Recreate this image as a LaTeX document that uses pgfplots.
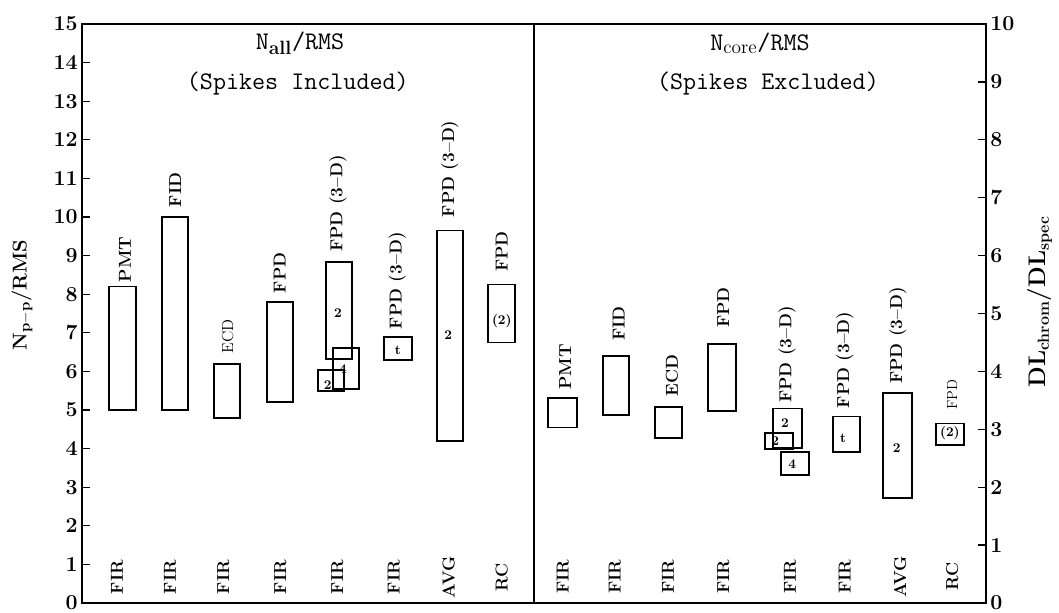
\documentclass[border=0pt]{standalone}
\usepackage{pgfplots}
\pgfplotsset{compat=1.18}
\newcommand\bx[4]{\addplot[black, line width=1.4pt, line cap=rect, line join=miter] coordinates {(#1,#3) (#2,#3) (#2,#4) (#1,#4) (#1,#3)};}
\tikzset{cat/.style={rotate=90, font=\bfseries\fontsize{13}{13}\selectfont},
         det/.style={rotate=90, font=\bfseries\fontsize{13}{13}\selectfont},
         inb/.style={font=\bfseries\fontsize{10}{10}\selectfont, inner sep=0.5pt},
         ttl/.style={font=\ttfamily\fontsize{19}{19}\selectfont}}
\begin{document}
\begin{tikzpicture}
\begin{axis}[at={(0,0)}, anchor=south west, scale only axis,
  width=678pt, height=434.25pt, xmin=0, xmax=16, ymin=0, ymax=15,
  clip=false, xtick=\empty, ytick={0,1,...,15}, ytick pos=left,
  tick align=inside, major tick length=6pt,
  tick style={line width=1pt, black},
  axis line style={line width=1.3pt},
  /pgf/number format/assume math mode=true,
  yticklabel style={font=\bfseries\fontsize{16}{16}\selectfont, inner ysep=0.5pt, inner xsep=3pt}]
% left panel boxes (N_p-p/RMS scale)
\bx{0.48}{0.96}{5.0}{8.2}
\bx{1.42}{1.88}{5.0}{10.0}
\bx{2.34}{2.80}{4.8}{6.2}
\bx{3.27}{3.73}{5.2}{7.8}
\bx{4.32}{4.78}{6.32}{8.83}
\bx{4.18}{4.64}{5.5}{6.03}
\bx{4.44}{4.90}{5.55}{6.6}
\bx{5.35}{5.84}{6.3}{6.9}
\bx{6.28}{6.74}{4.2}{9.65}
\bx{7.19}{7.66}{6.75}{8.25}
\draw[line width=1.3pt] (axis cs:8,0) -- (axis cs:8,15);
% detector labels
\node[det] at (axis cs:0.76,8.9) {PMT};
\node[det] at (axis cs:1.65,10.7) {FID};
\node[rotate=90, font=\fontsize{12}{12}\selectfont] at (axis cs:2.58,6.9) {ECD};
\node[det] at (axis cs:3.50,8.55) {FPD};
\node[det] at (axis cs:4.53,10.35) {FPD (3--D)};
\node[det] at (axis cs:5.58,8.35) {FPD (3--D)};
\node[det] at (axis cs:6.51,11.25) {FPD (3--D)};
\node[det] at (axis cs:7.43,9.1) {FPD};
\node[inb] at (axis cs:4.53,7.5) {2};
\node[inb] at (axis cs:4.35,5.65) {2};
\node[inb] at (axis cs:4.62,6.05) {4};
\node[inb] at (axis cs:5.59,6.55) {t};
\node[inb] at (axis cs:6.48,6.95) {2};
\node[inb] at (axis cs:7.43,7.3) {(2)};
% filter labels
\node[cat] at (axis cs:0.62,0.67) {FIR};
\node[cat] at (axis cs:1.56,0.67) {FIR};
\node[cat] at (axis cs:2.50,0.67) {FIR};
\node[cat] at (axis cs:3.51,0.67) {FIR};
\node[cat] at (axis cs:4.52,0.67) {FIR};
\node[cat] at (axis cs:5.52,0.67) {FIR};
\node[cat] at (axis cs:6.49,0.67) {AVG};
\node[cat] at (axis cs:7.43,0.67) {RC};
% titles
\node[ttl] at (axis cs:3.86,14.5) {N$_{\mathbf{all}}$/RMS};
\node[ttl] at (axis cs:3.82,13.47) {(Spikes Included)};
\node[ttl] at (axis cs:12.0,14.5) {N$_{\mathrm{core}}$/RMS};
\node[ttl] at (axis cs:12.14,13.47) {(Spikes Excluded)};
% y label
\node[rotate=90, font=\bfseries\fontsize{15}{15}\selectfont] at (axis cs:-1.06,7.98) {N$_{\mathbf{p-p}}$/RMS};
\end{axis}
\begin{axis}[at={(0,0)}, anchor=south west, scale only axis,
  width=678pt, height=434.25pt, xmin=0, xmax=16, ymin=0, ymax=10,
  clip=false, axis x line=none, axis y line*=right,
  ytick={0,1,...,10}, tick align=inside, major tick length=6pt,
  tick style={line width=1pt, black},
  axis line style={line width=1.3pt},
  /pgf/number format/assume math mode=true,
  yticklabel style={font=\bfseries\fontsize{16}{16}\selectfont, inner ysep=0.5pt, inner xsep=3pt}]
% right panel boxes (DL ratio scale)
\bx{8.25}{8.76}{3.03}{3.54}
\bx{9.22}{9.68}{3.25}{4.26}
\bx{10.14}{10.62}{2.85}{3.39}
\bx{11.08}{11.58}{3.32}{4.48}
\bx{12.23}{12.74}{2.68}{3.36}
\bx{12.09}{12.58}{2.66}{2.94}
\bx{12.37}{12.87}{2.21}{2.61}
\bx{13.29}{13.77}{2.61}{3.22}
\bx{14.18}{14.69}{1.82}{3.62}
\bx{15.12}{15.61}{2.73}{3.10}
\node[det] at (axis cs:8.55,4.08) {PMT};
\node[det] at (axis cs:9.50,4.83) {FID};
\node[det] at (axis cs:10.44,3.93) {ECD};
\node[det] at (axis cs:11.35,5.1) {FPD};
\node[det] at (axis cs:12.48,4.29) {FPD (3--D)};
\node[det] at (axis cs:13.50,4.2) {FPD (3--D)};
\node[det] at (axis cs:14.44,4.62) {FPD (3--D)};
\node[rotate=90, font=\fontsize{11}{11}\selectfont] at (axis cs:15.40,3.6) {FPD};
\node[inb] at (axis cs:12.44,3.11) {2};
\node[inb] at (axis cs:12.27,2.79) {2};
\node[inb] at (axis cs:12.57,2.39) {4};
\node[inb] at (axis cs:13.47,2.85) {t};
\node[inb] at (axis cs:14.42,2.68) {2};
\node[inb] at (axis cs:15.36,2.94) {(2)};
\node[cat] at (axis cs:8.51,0.45) {FIR};
\node[cat] at (axis cs:9.43,0.45) {FIR};
\node[cat] at (axis cs:10.37,0.45) {FIR};
\node[cat] at (axis cs:11.35,0.45) {FIR};
\node[cat] at (axis cs:12.53,0.45) {FIR};
\node[cat] at (axis cs:13.50,0.45) {FIR};
\node[cat] at (axis cs:14.48,0.45) {AVG};
\node[cat] at (axis cs:15.40,0.45) {RC};
\node[rotate=90, font=\bfseries\fontsize{18}{18}\selectfont] at (axis cs:16.95,5.2) {DL$_{\mathbf{chrom}}$/DL$_{\mathbf{spec}}$};
\end{axis}
\pgfresetboundingbox
\path[use as bounding box] (-61.5pt,-7pt) rectangle (732.75pt,452.25pt);
\end{tikzpicture}
\end{document}
